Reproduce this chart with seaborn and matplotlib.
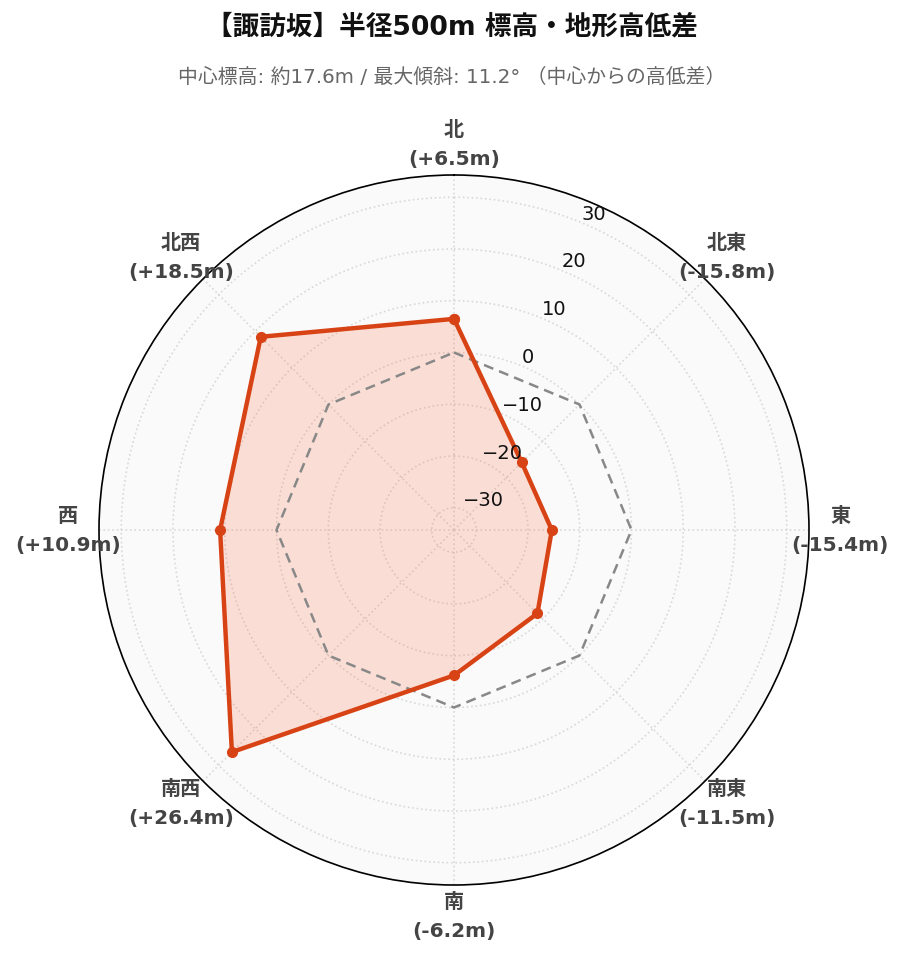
import numpy as np
import matplotlib
matplotlib.use('Agg')
import matplotlib.pyplot as plt
import seaborn as sns

# データ
directions = ['北', '北東', '東', '南東', '南', '南西', '西', '北西']
diffs = [6.5, -15.8, -15.4, -11.5, -6.2, 26.4, 10.9, 18.5]
r_ticks = [-30, -20, -10, 0, 10, 20, 30]
r_min, r_max = -34.3, 34.3

title = '【諏訪坂】半径500m 標高・地形高低差'
subtitle = '中心標高: 約17.6m / 最大傾斜: 11.2° （中心からの高低差）'

sns.set_style('white')
fonts = ['DejaVu Sans', 'Noto Sans CJK JP']
plt.rcParams['font.family'] = fonts
plt.rcParams['axes.unicode_minus'] = True

line_color = '#d84315'

fig = plt.figure(figsize=(9.03, 9.62), dpi=100)
ax = fig.add_axes([99 / 903, 76 / 962, 710 / 903, 710 / 962], projection='polar')
ax.set_theta_zero_location('N')
ax.set_theta_direction(-1)
ax.set_facecolor('#fafafa')

n = len(directions)
theta = np.arange(n) * 2 * np.pi / n
theta_c = np.append(theta, theta[0])
vals_c = np.append(diffs, diffs[0])

# 0m 基準線
ax.plot(theta_c, np.zeros(n + 1), color='#888888', lw=1.8, ls=(0, (4, 2.5)), zorder=3)

ax.fill(theta_c, vals_c, color='#ff5722', alpha=0.17, lw=0, zorder=2)
ax.plot(theta_c, vals_c, color=line_color, lw=3.2, marker='o', ms=7, zorder=4)

ax.set_ylim(r_min, r_max)
ax.set_yticks(r_ticks)
ax.set_yticklabels([])
ax.set_xticks(theta)
ax.set_xticklabels([])
ax.grid(True, color='#d9d9d9', ls=':', lw=1.2)
ax.spines['polar'].set_color('black')
ax.spines['polar'].set_linewidth(1.2)

# 半径ラベル
for t in r_ticks:
    lab = str(t).replace('-', '\u2212')
    ax.text(np.deg2rad(22.5), t, lab, ha='left', va='bottom', fontsize=14,
            color='#111111', zorder=5)

# 方位ラベル
for th, d, v in zip(theta, directions, diffs):
    ax.text(th, r_max + 6.0, f'{d}\n({v:+.1f}m)', ha='center', va='center',
            fontsize=14.5, fontweight='bold', color='#444444', linespacing=1.7,
            family=fonts)

fig.text(0.5, 1 - 27 / 962, title, ha='center', va='center', fontsize=19.2,
         fontweight='bold', color='#111111', family=fonts)
fig.text(0.5, 1 - 77 / 962, subtitle, ha='center', va='center', fontsize=14.3,
         color='#666666', family=fonts)

fig.savefig('out.png', dpi=100, facecolor='white')
